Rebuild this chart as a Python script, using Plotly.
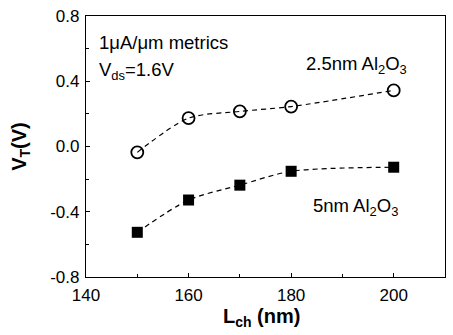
import plotly.graph_objects as go

L_ch = [150, 160, 170, 180, 200]
vt_25nm = [-0.036, 0.174, 0.215, 0.245, 0.344]
vt_5nm = [-0.526, -0.328, -0.237, -0.152, -0.127]

x_ticks = [140, 160, 180, 200]
y_ticks = [-0.8, -0.4, 0.0, 0.4, 0.8]
y_tick_labels = ["-0.8", "-0.4", "0.0", "0.4", "0.8"]

font = "Liberation Sans, Arial, sans-serif"

fig = go.Figure()
fig.add_trace(go.Scatter(
    x=L_ch, y=vt_25nm, mode="lines+markers",
    line=dict(color="black", width=1.2, dash="5px,4px", shape="spline", smoothing=0.8),
    marker=dict(symbol="circle-open", size=12, color="black", line=dict(width=1.8)),
    showlegend=False,
))
fig.add_trace(go.Scatter(
    x=L_ch, y=vt_5nm, mode="lines+markers",
    line=dict(color="black", width=1.2, dash="5px,4px", shape="spline", smoothing=0.8),
    marker=dict(symbol="square", size=11, color="black"),
    showlegend=False,
))

axis_common = dict(
    showline=True, linecolor="black", linewidth=1.3, mirror=True,
    ticks="inside", ticklen=4, tickwidth=1, tickcolor="black",
    showgrid=False, zeroline=False,
    tickfont=dict(family=font, size=17, color="black"),
    minor=dict(ticks="inside", ticklen=3, tickwidth=1, tickcolor="black"),
)

fig.update_xaxes(range=[140, 210], tickvals=x_ticks, ticktext=[str(v) for v in x_ticks],
                 minor_dtick=10, ticklabelstandoff=2, **axis_common)
fig.update_yaxes(range=[-0.8, 0.8], tickvals=y_ticks, ticktext=y_tick_labels,
                 minor_dtick=0.2, ticklabelstandoff=2, **axis_common)

ann_font = dict(family=font, size=18.5, color="black")
fig.add_annotation(x=0.03, y=0.898, xref="paper", yref="paper", xanchor="left", yanchor="middle",
                   text="1μA/μm metrics", showarrow=False, font=ann_font)
fig.add_annotation(x=0.03, y=0.79, xref="paper", yref="paper", xanchor="left", yanchor="middle",
                   text="V<sub>ds</sub>=1.6V", showarrow=False, font=ann_font)
fig.add_annotation(x=0.607, y=0.814, xref="paper", yref="paper", xanchor="left", yanchor="middle",
                   text="2.5nm Al<sub>2</sub>O<sub>3</sub>", showarrow=False, font=ann_font)
fig.add_annotation(x=0.626, y=0.27, xref="paper", yref="paper", xanchor="left", yanchor="middle",
                   text="5nm Al<sub>2</sub>O<sub>3</sub>", showarrow=False, font=ann_font)

fig.add_annotation(x=-0.183, y=0.5, xref="paper", yref="paper", xanchor="center", yanchor="middle",
                   text="<b>V<sub>T</sub>(V)</b>", textangle=-90, showarrow=False,
                   font=dict(family=font, size=20, color="black"))
fig.add_annotation(x=0.49, y=-0.155, xref="paper", yref="paper", xanchor="center", yanchor="middle",
                   text="<b>L<sub>ch</sub> (nm)</b>", showarrow=False,
                   font=dict(family=font, size=20, color="black"))

fig.update_layout(
    width=453, height=335,
    margin=dict(l=86, r=7, t=13, b=58),
    paper_bgcolor="white", plot_bgcolor="white",
)

fig.write_html("out.html")
